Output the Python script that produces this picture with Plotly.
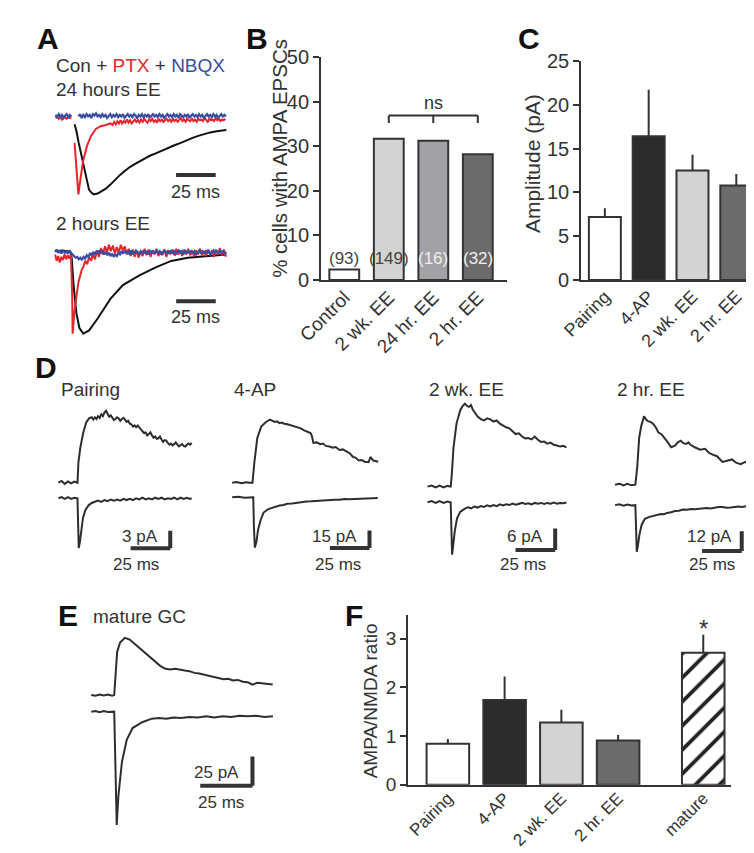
import plotly.graph_objects as go

W, H = 754, 853
INK = "#333333"
FONT = "Liberation Sans, Arial, Helvetica, sans-serif"
RED = "#e5262c"
BLUE = "#3b4da3"


def px(x):
    return x / W


def py(y):
    return 1 - y / H


# ---------------- data ----------------
B_CATS = ["Control", "2 wk. EE", "24 hr. EE", "2 hr. EE"]
B_PCT = [2.4, 31.7, 31.2, 28.2]
B_N = ["(93)", "(149)", "(16)", "(32)"]

C_CATS = ["Pairing", "4-AP", "2 wk. EE", "2 hr. EE"]
C_AMP = [7.2, 16.4, 12.5, 10.8]
C_SEM = [1.0, 5.3, 1.8, 1.3]

F_CATS = ["Pairing", "4-AP", "2 wk. EE", "2 hr. EE", "mature"]
F_RATIO = [0.84, 1.74, 1.28, 0.91, 2.71]
F_SEM = [0.10, 0.48, 0.26, 0.11, 0.37]

# Panel A traces: (time ms, normalized current)
A24_CON = [(0, -0.1), (1.2, -0.19), (2.5, -0.33), (4.3, -0.5), (5.8, -0.66), (7.3, -0.81), (9.1, -0.94),
           (10.7, -0.98), (12.2, -1.0), (14.5, -0.99), (16.5, -0.97), (19.5, -0.93), (22.6, -0.875),
           (25.6, -0.81), (28.7, -0.75), (31.7, -0.7), (34.8, -0.65), (39.3, -0.595), (43.9, -0.54),
           (47.5, -0.505), (51.2, -0.475), (55.1, -0.44), (59.1, -0.4), (63, -0.37), (67, -0.34),
           (70.7, -0.305), (74.4, -0.275), (78, -0.25), (81.7, -0.225), (85.6, -0.205), (89.6, -0.19),
           (92.7, -0.18), (95.7, -0.175)]
A24_PTX = [(-12, -0.02), (-11, 0.0), (-10, -0.03), (-9, -0.01), (-8, -0.04), (-7, 0.0), (-6, -0.02),
           (-5, -0.03), (-4, 0.0), (-3, -0.02), (-2, -0.01), (None, None),
           (0, -0.34), (1.2, -0.7), (2.4, -1.0), (3.7, -0.8), (5.5, -0.56), (7.9, -0.375), (10.4, -0.25),
           (13.4, -0.16), (16.5, -0.125), (19.5, -0.11), (22.6, -0.09), (24, -0.11), (25, -0.07), (26, -0.1),
           (27, -0.06), (28, -0.09), (29, -0.05), (30, -0.09), (31, -0.06), (32, -0.08), (33, -0.04),
           (34, -0.08), (35, -0.05), (36, -0.09), (37, -0.06), (38, -0.04), (39, -0.07), (40, -0.05),
           (41, -0.08), (42, -0.04), (43, -0.07), (44, -0.03), (45, -0.06), (46, -0.08), (47, -0.04),
           (48, -0.06), (49, -0.03), (50, -0.07), (51, -0.05), (52, -0.08), (53, -0.03), (54, -0.06),
           (55, -0.04), (56, -0.07), (57, -0.05), (58, -0.03), (59, -0.06), (60, -0.04), (61, -0.07),
           (62, -0.03), (63, -0.06), (64, -0.04), (65, -0.07), (66, -0.05), (67, -0.02), (68, -0.06),
           (69, -0.04), (70, -0.07), (71, -0.03), (72, -0.05), (73, -0.06), (74, -0.03), (75, -0.06),
           (76, -0.04), (77, -0.07), (78, -0.03), (79, -0.05), (80, -0.04), (81, -0.06), (82, -0.02),
           (83, -0.05), (84, -0.07), (85, -0.03), (86, -0.05), (87, -0.04), (88, -0.06), (89, -0.02),
           (90, -0.05), (91, -0.03), (92, -0.06), (93, -0.04), (94, -0.05), (95, -0.03)]
A24_NBQX = [(-12, 0.02), (-11, -0.01), (-10, 0.03), (-9, 0.0), (-8, 0.02), (-7, -0.02), (-6, 0.01),
            (-5, 0.03), (-4, -0.01), (-3, 0.02), (-2, 0.0), (None, None),
            (2.5, 0.0), (3.5, 0.03), (4.5, -0.02), (5.5, 0.02), (6.5, -0.01), (7.5, 0.03), (8.5, 0.0),
            (9.5, 0.02), (10.5, -0.02), (11.5, 0.03), (12.5, 0.01), (13.5, 0.04), (14.5, 0.0), (15.5, 0.02),
            (16.5, -0.01), (17.5, 0.03), (18.5, 0.0), (19.5, 0.02), (20.5, -0.02), (21.5, 0.01), (22.5, 0.03),
            (23.5, -0.01), (24.5, 0.02), (25.5, 0.0), (26.5, 0.03), (27.5, -0.01), (28.5, 0.02), (29.5, 0.0),
            (30.5, 0.03), (31.5, -0.02), (32.5, 0.01), (33.5, 0.03), (34.5, 0.0), (35.5, 0.02), (36.5, -0.01),
            (37.5, 0.03), (38.5, 0.01), (39.5, -0.02), (40.5, 0.02), (41.5, 0.0), (42.5, 0.03), (43.5, -0.01),
            (44.5, 0.02), (45.5, 0.0), (46.5, 0.03), (47.5, -0.02), (48.5, 0.01), (49.5, 0.03), (50.5, 0.0),
            (51.5, 0.02), (52.5, -0.01), (53.5, 0.03), (54.5, 0.0), (55.5, 0.02), (56.5, -0.02), (57.5, 0.01),
            (58.5, 0.03), (59.5, 0.0), (60.5, 0.02), (61.5, -0.01), (62.5, 0.03), (63.5, 0.0), (64.5, 0.02),
            (65.5, -0.02), (66.5, 0.03), (67.5, 0.01), (68.5, -0.01), (69.5, 0.02), (70.5, 0.0), (71.5, 0.03),
            (72.5, -0.02), (73.5, 0.01), (74.5, 0.03), (75.5, 0.0), (76.5, 0.02), (77.5, -0.01), (78.5, 0.03),
            (79.5, 0.0), (80.5, 0.02), (81.5, -0.02), (82.5, 0.01), (83.5, 0.03), (84.5, 0.0), (85.5, 0.02),
            (86.5, -0.01), (87.5, 0.03), (88.5, 0.0), (89.5, 0.02), (90.5, -0.02), (91.5, 0.01), (92.5, 0.03),
            (93.5, 0.0), (94.5, 0.02), (95.5, 0.0)]

A2_CON = [(-10.4, 0.02), (-6, 0.03), (-3, 0.02), (-1, 0.02), (0, -0.06), (1.2, -0.4), (3, -0.75),
          (4.9, -0.93), (7.3, -1.0), (11, -0.96), (16.5, -0.81), (24.4, -0.57), (32.3, -0.4),
          (42.7, -0.28), (53, -0.18), (62.8, -0.1), (73.2, -0.06), (83.5, -0.04), (97.6, -0.02)]
A2_PTX = [(-10.4, -0.02), (-9.5, -0.1), (-8.5, -0.04), (-7.5, -0.12), (-6.5, -0.05), (-5.5, -0.09),
          (-4.5, -0.02), (-3.5, -0.08), (-2.5, -0.03), (-1.5, -0.07), (-0.5, -0.02), (0.3, -0.5),
          (0.6, -1.0), (1.2, -0.85), (1.8, -0.72), (3, -0.54), (4.3, -0.36), (5.5, -0.27), (6.5, -0.2),
          (7.3, -0.18), (8.5, -0.1), (9.8, -0.14), (11, -0.05), (12.2, -0.1), (13.5, -0.02), (14.7, -0.08),
          (16, 0.03), (17.2, -0.05), (18.5, 0.06), (19.7, -0.02), (21, 0.08), (22.2, 0.0), (23.5, 0.1),
          (24.7, 0.02), (26, 0.09), (27.2, -0.01), (28.5, 0.07), (29.7, 0.0), (31, 0.1), (32.2, 0.03),
          (33.5, 0.08), (34.7, -0.02), (36, 0.05), (37.2, -0.04), (38.5, 0.04), (39.7, -0.05), (41, 0.03),
          (42.2, -0.06), (43.5, 0.02), (44.7, -0.04), (46, 0.05), (47.2, -0.03), (48.5, 0.04),
          (49.7, -0.05), (51, 0.03), (52.2, -0.02), (53.5, 0.05), (54.7, -0.04), (56, 0.02), (57.2, -0.03),
          (58.5, 0.04), (59.7, -0.05), (61, 0.03), (62.2, -0.02), (63.5, 0.04), (64.7, -0.03), (66, 0.05),
          (67.2, -0.02), (68.5, 0.03), (69.7, -0.04), (71, 0.04), (72.2, -0.02), (73.5, 0.05),
          (74.7, -0.03), (76, 0.02), (77.2, -0.04), (78.5, 0.03), (79.7, -0.02), (81, 0.05), (82.2, -0.03),
          (83.5, 0.02), (84.7, -0.04), (86, 0.04), (87.2, -0.02), (88.5, 0.03), (89.7, -0.05), (91, 0.04),
          (92.2, -0.02), (93.5, 0.06), (94.7, -0.03), (96, 0.04), (97.2, -0.05)]
A2_NBQX = [(-10.4, 0.01), (-9.5, 0.04), (-8.5, 0.0), (-7.5, 0.03), (-6.5, -0.01), (-5.5, 0.03),
           (-4.5, 0.0), (-3.5, 0.02), (-2.5, -0.01), (-1.5, 0.03), (-0.5, 0.0), (0.5, -0.02), (1.5, -0.04),
           (2.5, -0.06), (3.5, -0.05), (4.5, -0.08), (5.5, -0.06), (6.5, -0.09), (7.5, -0.05), (8.5, -0.07),
           (9.5, -0.03), (10.5, -0.05), (11.5, -0.01), (12.5, -0.03), (13.5, 0.01), (14.5, -0.02),
           (15.5, 0.02), (16.5, -0.01), (17.5, 0.03), (18.5, 0.0), (19.5, 0.02), (20.5, -0.02),
           (21.5, 0.01), (22.5, -0.03), (23.5, 0.0), (24.5, -0.04), (25.5, -0.01), (26.5, -0.05),
           (27.5, -0.02), (28.5, -0.04), (29.5, 0.0), (30.5, -0.02), (31.5, 0.02), (32.5, -0.01),
           (33.5, 0.03), (34.5, 0.0), (35.5, 0.02), (36.5, -0.02), (37.5, 0.03), (38.5, -0.01), (39.5, 0.0),
           (40.5, 0.03), (41.5, 0.01), (42.5, -0.02), (43.5, 0.02), (44.5, 0.0), (45.5, 0.03), (46.5, -0.01),
           (47.5, 0.02), (48.5, -0.02), (49.5, 0.03), (50.5, 0.0), (51.5, 0.02), (52.5, -0.01), (53.5, 0.03),
           (54.5, 0.0), (55.5, 0.02), (56.5, -0.02), (57.5, 0.01), (58.5, 0.03), (59.5, 0.0), (60.5, 0.02),
           (61.5, -0.01), (62.5, 0.03), (63.5, 0.0), (64.5, 0.02), (65.5, -0.02), (66.5, 0.01), (67.5, 0.03),
           (68.5, 0.0), (69.5, 0.02), (70.5, -0.02), (71.5, 0.03), (72.5, 0.0), (73.5, 0.02), (74.5, -0.01),
           (75.5, 0.03), (76.5, 0.0), (77.5, 0.02), (78.5, -0.02), (79.5, 0.01), (80.5, 0.03), (81.5, 0.0),
           (82.5, 0.02), (83.5, -0.01), (84.5, 0.03), (85.5, 0.0), (86.5, 0.02), (87.5, -0.02), (88.5, 0.01),
           (89.5, 0.03), (90.5, 0.0), (91.5, 0.02), (92.5, -0.01), (93.5, 0.03), (94.5, 0.0), (95.5, 0.02),
           (96.5, -0.01), (97.5, 0.01)]

# Panel D / E traces: (time ms, current pA); UP = NMDA (+40 mV), DN = AMPA (-70 mV)
PAIR_UP = [(-12, 0), (-10, 0.3), (-8, -0.2), (-6, 0.2), (-4, -0.1), (-2, 0.2), (0, 0), (0.6, 3.5), (1.8, 6),
           (3.6, 8.5), (5.5, 10.3), (7.3, 11), (9, 11.2), (10, 10.8), (11, 11.2), (12, 10.9), (13, 11.4),
           (14, 11.1), (15, 11.7), (16, 11.4), (17, 12), (18, 12.3), (19, 11.8), (20, 11.3), (21, 11.5),
           (22, 11.1), (23, 10.7), (24, 10.9), (25, 11.2), (26, 11), (27, 10.6), (28, 10.9), (29, 11.1),
           (30, 10.8), (31, 10.4), (32, 10.6), (33, 10.1), (34, 10), (35, 9.6), (36, 9.8), (37, 9.5),
           (38, 9.8), (39, 9.4), (40, 9.2), (41, 8.8), (42, 8.5), (43, 8.6), (44, 8.1), (45, 8.4), (46, 8.6),
           (47, 8.1), (48, 7.7), (49, 7.9), (50, 7.5), (51, 7.6), (52, 7.9), (53, 7.4), (54, 7), (55, 7.3),
           (56, 7.2), (57, 6.8), (58, 6.5), (59, 6.7), (60, 6.4), (61, 6.6), (62, 6.9), (63, 6.5), (64, 6.2),
           (65, 6.4), (66, 6.6), (67, 6.3), (68, 6.2), (69, 6.5), (70, 6.7), (71, 6.5), (72, 6.8)]
PAIR_DN = [(-12, 0), (-10, 0.2), (-8, -0.1), (-6, 0.2), (-4, -0.1), (-2, 0.1), (0, 0), (0.4, -6), (0.8, -8.5),
           (1.5, -7.5), (2.5, -5), (3.5, -3.3), (5, -2), (7, -1.2), (9, -0.8), (11, -0.6), (13, -0.4),
           (15, -0.6), (17, -0.3), (19, -0.5), (21, -0.2), (23, -0.4), (25, -0.2), (27, -0.4), (29, -0.1),
           (31, -0.3), (33, -0.1), (35, -0.3), (37, 0), (39, -0.2), (41, 0.1), (43, -0.2), (45, 0), (47, -0.2),
           (49, 0.1), (51, -0.1), (53, 0.1), (55, -0.2), (57, 0), (59, -0.1), (61, 0.1), (63, -0.2),
           (65, 0.1), (67, -0.1), (69, 0.1), (71, -0.1), (72, 0)]
AP_UP = [(-12.8, 0), (-10, 0.6), (-7, -0.5), (-4, 0.4), (-1.8, 0), (0, 0), (1.2, 17.5), (3, 38), (5.5, 48),
         (8.5, 52), (11, 54), (12.5, 53), (14, 52), (15.5, 52.5), (17, 51), (18.5, 51.5), (20, 50.5),
         (22, 50), (24.4, 49), (26.5, 48.5), (28.7, 47), (30.5, 46.5), (32.3, 45), (34.5, 44), (36.6, 42.5),
         (37.5, 40), (38.4, 34), (40.5, 34.5), (42.7, 33), (44.5, 33.5), (46.3, 31.5), (48.5, 31),
         (50.6, 30), (52.5, 30.5), (54.9, 28), (57, 28.5), (59.8, 26), (61.5, 25), (63.4, 22), (65, 21.5),
         (67, 19), (69, 19.5), (70.7, 18), (73.2, 17.5), (74.4, 22), (76.2, 19), (79.3, 18)]
AP_DN = [(-12.8, 0), (-9, 0.5), (-5, -0.3), (-1, 0), (0.5, 0), (0.9, -25), (1.5, -43), (2.5, -38), (3.5, -28),
         (5, -20), (7, -13), (10, -10), (13, -8.5), (15, -8), (17, -7), (19.5, -6.5), (22, -5.5),
         (25, -5.2), (28, -4.5), (31, -4.2), (34, -3.5), (37, -3.4), (40, -3), (43, -2.9), (46, -2.5),
         (49, -2.4), (52, -2), (55, -2.1), (58, -1.5), (61, -1.7), (64, -1.5), (67, -1.2), (70, -1),
         (73, -0.9), (76, -0.5), (79, -0.5)]
WK_UP = [(-14.6, 0), (-12, 0.3), (-9.5, -0.2), (-7, 0.3), (-4.5, -0.2), (-2, 0.2), (0, 0), (0.6, 2.7),
         (1.8, 11), (3.7, 17.7), (6, 21.3), (7.5, 22.5), (9, 23.2), (10.3, 22.6), (11.6, 22.3), (12.8, 22.8),
         (14, 21.5), (15.5, 20.5), (17, 19.6), (19, 18.9), (21, 18.5), (23, 19.1), (25, 18.8), (27, 18.2),
         (29, 18.5), (31, 17.6), (33, 17), (35, 16.6), (37, 16.3), (39, 15.4), (41, 14.7), (43, 14.9),
         (45, 14), (47, 13.5), (49, 13.6), (51, 13.2), (53, 14), (55, 13.1), (57, 12.5), (59, 12.6),
         (61, 12), (63, 12.3), (65, 11.7), (67, 11.5), (69, 11.2), (71, 11.4), (73, 11)]
WK_DN = [(-14.6, 0), (-12, 0.3), (-9.5, -0.2), (-7, 0.3), (-4.5, -0.2), (-2, 0.2), (0, 0), (0.5, -8),
         (0.9, -14.7), (1.6, -12), (2.6, -8), (4, -4.5), (6, -2.7), (9, -1.8), (11, -1.4), (13, -1.7),
         (15, -1.2), (17, -1.5), (19, -1.1), (21, -1.3), (23, -0.9), (25, -1.2), (27, -0.8), (29, -1.1),
         (31, -0.6), (33, -0.9), (35, -0.6), (37, -0.8), (39, -0.4), (41, -0.7), (43, -0.5), (45, -0.2),
         (47, -0.5), (49, -0.3), (51, -0.6), (53, -0.2), (55, -0.4), (57, -0.2), (59, -0.5), (61, -0.2),
         (63, -0.4), (65, -0.1), (67, -0.4), (69, -0.2), (71, -0.3), (73, -0.1)]
HR_UP = [(-12.8, 0), (-10, 0.6), (-7.5, -0.5), (-5, 0.5), (-2.5, -0.4), (0, 0), (1.2, 10.8), (2.4, 28.7),
         (3.7, 36), (5.5, 42), (6.8, 40), (8, 39), (9.8, 38.5), (11.6, 37), (13, 35), (14.6, 32),
         (16.5, 31), (18.3, 29), (20.5, 26), (22.6, 23), (25, 24), (26.8, 26), (28.6, 27), (30.3, 25.5),
         (32, 25), (33.5, 26), (34.8, 24.5), (37.5, 23), (40.9, 21.5), (44, 22), (46.5, 19.5), (48.8, 18.5),
         (51.5, 17.5), (54.9, 14), (58, 15), (61, 15.5), (63.5, 13.5), (66.5, 12.6), (69, 13.8), (71.3, 14.4),
         (73.2, 13)]
HR_DN = [(-12.8, 0), (-10, 0.5), (-7.5, -0.3), (-5, 0.4), (-2.5, -0.2), (0, 0), (0.5, -15), (0.9, -28.7),
         (1.6, -25), (2.6, -18), (4, -12), (6, -8.4), (9, -7.2), (12, -6.6), (14, -6.2), (16, -5.4),
         (18, -5.6), (20, -4.8), (22.5, -4.4), (25, -3.6), (27.5, -3.4), (30, -2.7), (32.5, -2.9),
         (35, -2.4), (37.5, -2.5), (40, -2.2), (42.5, -1.9), (45, -1.8), (47.5, -2), (50, -1.5),
         (52.5, -1.1), (55, -1.2), (57.5, -1.6), (60, -1.5), (62.5, -1.0), (65, -0.9), (67.5, -1.2),
         (70, -0.6), (73, -0.6)]
MAT_UP = [(-11, 0), (-9, -0.6), (-7, 0.5), (-5, -0.3), (-3, 0.4), (-1, -0.5), (0, 0), (0.5, 12), (1.4, 37),
          (2.8, 45), (5.1, 49), (7.4, 47.5), (9, 45), (10.6, 42.5), (13, 39), (15.3, 35), (17.5, 31.5),
          (19.9, 28), (22, 25), (24.5, 22.5), (27, 22), (29.2, 22.5), (31.5, 21.5), (33.8, 21), (36, 20.5),
          (38.4, 19), (40.7, 18.5), (43, 17.5), (45.3, 16.5), (47.7, 16), (50, 14.5), (52.3, 13.5),
          (54.6, 14), (56.9, 12.5), (59.2, 13), (61.6, 11.5), (63.9, 11), (66.2, 9), (68.5, 10.5),
          (70.8, 10), (73.3, 9.5), (75.9, 9)]
MAT_DN = [(-11, 0), (-9, 0.6), (-7, -0.4), (-5, 0.5), (-3, -0.3), (-1, 0.3), (0, 0), (0.5, -40), (1.2, -97),
          (2, -72), (3.7, -43), (6, -24), (8.8, -14), (13.4, -9), (18, -6), (21.5, -5.5), (25, -6),
          (28.5, -5), (32, -5.5), (36, -4.5), (40, -5), (44, -4), (48, -5), (52, -4), (56, -4.5), (60, -3.5),
          (64, -4), (68, -3.5), (72, -4.5), (76, -4)]

# ---------------- figure ----------------
fig = go.Figure()
layout = dict(width=W, height=H, margin=dict(l=0, r=0, t=0, b=0), paper_bgcolor="white",
              plot_bgcolor="white", showlegend=False, font=dict(family=FONT, color=INK, size=19))
annotations = []
shapes = []


def ann(x, y, text, size=19, xanchor="center", yanchor="middle", color=INK, bold=False,
        xref="paper", yref="paper", angle=0):
    if xref == "paper":
        x = px(x)
    if yref == "paper":
        y = py(y)
    annotations.append(dict(x=x, y=y, xref=xref, yref=yref, text=("<b>%s</b>" % text) if bold else text,
                            showarrow=False, xanchor=xanchor, yanchor=yanchor, textangle=angle,
                            font=dict(size=size, color=color, family=FONT)))


def bar_axes(i, xbox, ybox, xr, yr, ticks, labels, yticks, xfont=19, yfont=19, standoff=-3):
    sx = "" if i == 1 else str(i)
    layout["xaxis" + sx] = dict(domain=[px(xbox[0]), px(xbox[1])], range=xr, tickvals=ticks, ticktext=labels,
                                tickangle=-45, showline=True, linewidth=2, linecolor=INK, ticks="",
                                ticklabelstandoff=standoff, showgrid=False, zeroline=False, anchor="y" + sx,
                                fixedrange=True, tickfont=dict(size=xfont, color=INK))
    layout["yaxis" + sx] = dict(domain=[py(ybox[1]), py(ybox[0])], range=yr, tickvals=yticks,
                                showline=True, linewidth=2, linecolor=INK, ticks="outside", ticklen=6,
                                tickwidth=2, tickcolor=INK, showgrid=False, zeroline=False,
                                anchor="x" + sx, fixedrange=True, tickfont=dict(size=yfont, color=INK))


def trace_axes(i, box, t0, ppm, v0, ppu):
    x0, x1, y0, y1 = box
    layout["xaxis%d" % i] = dict(domain=[px(x0), px(x1)], range=[(x0 - t0) / ppm, (x1 - t0) / ppm],
                                 visible=False, fixedrange=True, anchor="y%d" % i)
    layout["yaxis%d" % i] = dict(domain=[py(y1), py(y0)], range=[(v0 - y1) / ppu, (v0 - y0) / ppu],
                                 visible=False, fixedrange=True, anchor="x%d" % i)


def add_line(i, pairs, color, width=2.0, offset=0.0):
    xs = [p[0] for p in pairs]
    ys = [None if p[1] is None else p[1] + offset for p in pairs]
    fig.add_trace(go.Scatter(x=xs, y=ys, mode="lines", line=dict(color=color, width=width),
                             xaxis="x%d" % i, yaxis="y%d" % i, hoverinfo="skip"))


def scalebar(i, corner_t, corner_v, dt, dv, width=4):
    ax = dict(xref="x%d" % i, yref="y%d" % i, type="line", line=dict(color=INK, width=width))
    shapes.append(dict(ax, x0=corner_t - dt, x1=corner_t, y0=corner_v, y1=corner_v))
    if dv:
        shapes.append(dict(ax, x0=corner_t, x1=corner_t, y0=corner_v, y1=corner_v + dv))


# ---- Panel B ----
bar_axes(1, (298, 490), (39, 268), [-0.52, 3.65], [0, 50], [0, 1, 2, 3], B_CATS, [0, 10, 20, 30, 40, 50],
         xfont=19, yfont=20)
fig.add_trace(go.Bar(x=[0, 1, 2, 3], y=B_PCT, width=0.67, xaxis="x", yaxis="y",
                     marker=dict(color=["white", "#d3d3d3", "#a2a2a6", "#6b6b6b"], line=dict(color=INK, width=2))))
for i, (t, c) in enumerate(zip(B_N, ["#444", "#444", "#eeeeee", "#eeeeee"])):
    ann(i, 4.9, t, size=17, color=c, xref="x", yref="y")
for x0, x1, y0, y1 in [(1, 3, 36.9, 36.9), (1, 1, 36.9, 35.2), (2, 2, 36.9, 35.2), (3, 3, 36.9, 35.2)]:
    shapes.append(dict(type="line", xref="x", yref="y", x0=x0, x1=x1, y0=y0, y1=y1,
                       line=dict(color=INK, width=2)))
ann(2, 39.6, "ns", size=18, xref="x", yref="y")
ann(255, 143, "% cells with AMPA EPSCs", size=20.5, angle=-90)

# ---- Panel C ----
bar_axes(2, (567, 751), (43, 268), [-0.54, 3.52], [0, 25], [0, 1, 2, 3], C_CATS, [0, 5, 10, 15, 20, 25],
         xfont=18, yfont=20)
fig.add_trace(go.Bar(x=[0, 1, 2, 3], y=C_AMP, width=0.73, xaxis="x2", yaxis="y2",
                     marker=dict(color=["white", "#2b2b2b", "#d3d3d3", "#6b6b6b"], line=dict(color=INK, width=2)),
                     error_y=dict(type="data", array=C_SEM, arrayminus=[0] * 4, symmetric=False, width=0,
                                  thickness=2, color=INK)))
ann(516, 148, "Amplitude (pA)", size=21, angle=-90)

# ---- Panel F ----
bar_axes(3, (388, 722), (612, 786), [-0.70, 4.99], [0, 3.48], [0, 1, 2, 3, 4.5], F_CATS, [0, 1, 2, 3],
         xfont=17, yfont=19, standoff=-5)
fig.add_trace(go.Bar(x=[0, 1, 2, 3], y=F_RATIO[:4], width=0.75, xaxis="x3", yaxis="y3",
                     marker=dict(color=["white", "#2b2b2b", "#d3d3d3", "#6b6b6b"], line=dict(color=INK, width=2)),
                     error_y=dict(type="data", array=F_SEM[:4], arrayminus=[0] * 4, symmetric=False, width=0,
                                  thickness=2, color=INK)))
fig.add_trace(go.Bar(x=[4.5], y=F_RATIO[4:], width=0.75, xaxis="x3", yaxis="y3",
                     marker=dict(color="white", line=dict(color=INK, width=2),
                                 pattern=dict(shape="/", fgcolor="#222222", bgcolor="white", size=17,
                                              solidity=0.22, fgopacity=1, fillmode="overlay")),
                     error_y=dict(type="data", array=F_SEM[4:], arrayminus=[0], symmetric=False, width=0,
                                  thickness=2, color=INK)))
ann(4.5, F_RATIO[4] + F_SEM[4] + 0.12, "*", size=24, xref="x3", yref="y3")
ann(350, 700, "AMPA/NMDA ratio", angle=-90)

# ---- Panel A traces ----
trace_axes(4, (15, 210, 85, 195), 43, 1.64, 100, 80)
add_line(4, A24_CON, "#111111", 2)
add_line(4, A24_PTX, RED, 2)
add_line(4, A24_NBQX, BLUE, 2.2)
scalebar(4, 89, -0.75, 25, 0)
trace_axes(5, (15, 210, 225, 335), 40, 1.64, 240, 83)
add_line(5, A2_CON, "#111111", 2)
add_line(5, A2_PTX, RED, 2)
add_line(5, A2_NBQX, BLUE, 2.2)
scalebar(5, 90.9, -0.6, 25, 0)

# ---- Panel D traces ----
TR = "#2e2e2e"
trace_axes(6, (18, 172, 390, 560), 46, 1.64, 476, 6.0)
add_line(6, PAIR_UP, TR)
add_line(6, PAIR_DN, TR, offset=-(492 - 476) / 6.0)
scalebar(6, 58.5, -11.2, 25, 3)
trace_axes(7, (198, 365, 390, 560), 227, 1.64, 476, 1.2)
add_line(7, AP_UP, TR)
add_line(7, AP_DN, TR, offset=-(491 - 476) / 1.2)
scalebar(7, 73.8, -55.8, 25, 15)
trace_axes(8, (398, 562, 385, 560), 432, 1.64, 480, 3.67)
add_line(8, WK_UP, TR)
add_line(8, WK_DN, TR, offset=-(496 - 480) / 3.67)
scalebar(8, 65.9, -17.7, 25, 6)
trace_axes(9, (593, 752, 390, 560), 623, 1.64, 478, 1.67)
add_line(9, HR_UP, TR)
add_line(9, HR_DN, TR, offset=-(499 - 478) / 1.67)
scalebar(9, 67.1, -40.7, 25, 12)

# ---- Panel E traces ----
trace_axes(10, (50, 262, 622, 840), 84, 2.16, 694, 1.2)
add_line(10, MAT_UP, TR)
add_line(10, MAT_DN, TR, offset=-(711 - 694) / 1.2)
scalebar(10, 66.2, -77.5, 25, 25)

# ---- text ----
for x, y, t in [(2, 20, "A"), (218, 20, "B"), (500, 20, "C"), (0, 358, "D"), (24, 612, "E"), (321, 612, "F")]:
    ann(x, y, t, size=30, xanchor="left", bold=True, color="#111")
ann(22, 48, "Con + <span style='color:%s'>PTX</span> + <span style='color:%s'>NBQX</span>" % (RED, BLUE),
    xanchor="left")
ann(22, 72, "24 hours EE", xanchor="left")
ann(22, 210, "2 hours EE", xanchor="left")
ann(168, 178, "25 ms", size=18)
ann(168, 306, "25 ms", size=18)
for x, t in [(27, "Pairing"), (206, "4-AP"), (408, "2 wk. EE"), (602, "2 hr. EE")]:
    ann(x, 380, t, xanchor="left")
for xr, xc, t in [(131, 107, "3 pA"), (337, 315, "15 pA"), (530, 507, "6 pA"), (725, 702, "12 pA")]:
    ann(xr, 531, t, size=17, xanchor="right")
    ann(xc, 560, "25 ms", size=17)
ann(60, 613, "mature GC", xanchor="left")
ann(215, 773, "25 pA", size=17, xanchor="right")
ann(194, 804, "25 ms", size=17)

layout["annotations"] = annotations
layout["shapes"] = shapes
fig.update_layout(**layout)
fig.write_html("out.html")
